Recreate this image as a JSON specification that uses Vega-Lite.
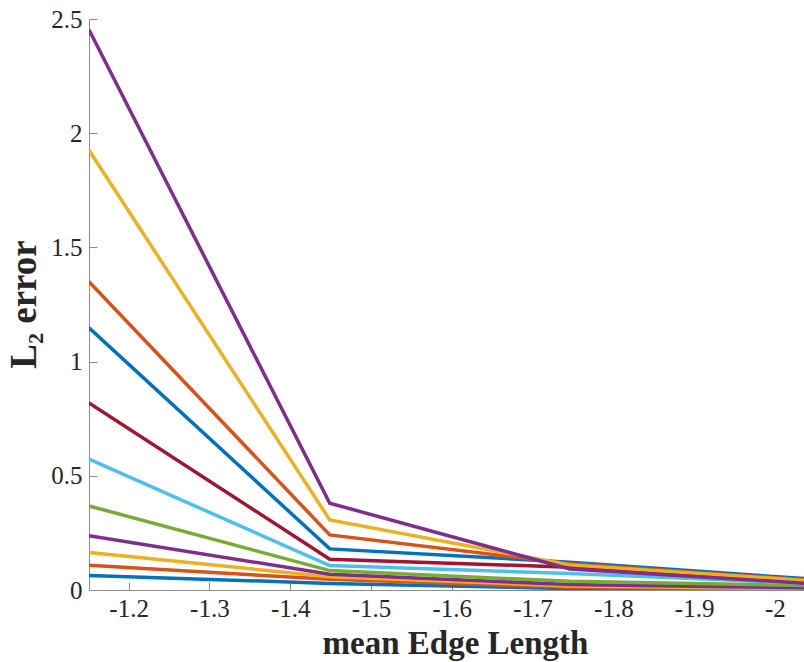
{
  "$schema": "https://vega.github.io/schema/vega-lite/v6.json",
  "width": 715,
  "height": 571,
  "autosize": {"type": "none"},
  "padding": {"left": 89, "top": 19, "right": 0, "bottom": 72},
  "background": "white",
  "config": {"view": {"stroke": null}, "font": "Liberation Serif"},
  "data": {"values": [
    {"s": "s01", "x": -1.151, "y": 0.064}, {"s": "s01", "x": -1.449, "y": 0.029}, {"s": "s01", "x": -1.746, "y": 0.006}, {"s": "s01", "x": -2.036, "y": 0.002},
    {"s": "s02", "x": -1.151, "y": 0.108}, {"s": "s02", "x": -1.449, "y": 0.047}, {"s": "s02", "x": -1.746, "y": 0.012}, {"s": "s02", "x": -2.036, "y": 0.004},
    {"s": "s03", "x": -1.151, "y": 0.164}, {"s": "s03", "x": -1.449, "y": 0.058}, {"s": "s03", "x": -1.746, "y": 0.018}, {"s": "s03", "x": -2.036, "y": 0.006},
    {"s": "s04", "x": -1.151, "y": 0.238}, {"s": "s04", "x": -1.449, "y": 0.069}, {"s": "s04", "x": -1.746, "y": 0.024}, {"s": "s04", "x": -2.036, "y": 0.010},
    {"s": "s05", "x": -1.151, "y": 0.368}, {"s": "s05", "x": -1.449, "y": 0.085}, {"s": "s05", "x": -1.746, "y": 0.038}, {"s": "s05", "x": -2.036, "y": 0.020},
    {"s": "s06", "x": -1.151, "y": 0.573}, {"s": "s06", "x": -1.449, "y": 0.107}, {"s": "s06", "x": -1.746, "y": 0.072}, {"s": "s06", "x": -2.036, "y": 0.030},
    {"s": "s07", "x": -1.151, "y": 0.819}, {"s": "s07", "x": -1.449, "y": 0.135}, {"s": "s07", "x": -1.746, "y": 0.100}, {"s": "s07", "x": -2.036, "y": 0.038},
    {"s": "s08", "x": -1.151, "y": 1.148}, {"s": "s08", "x": -1.449, "y": 0.180}, {"s": "s08", "x": -1.746, "y": 0.122}, {"s": "s08", "x": -2.036, "y": 0.050},
    {"s": "s09", "x": -1.151, "y": 1.350}, {"s": "s09", "x": -1.449, "y": 0.241}, {"s": "s09", "x": -1.746, "y": 0.115}, {"s": "s09", "x": -2.036, "y": 0.045},
    {"s": "s10", "x": -1.151, "y": 1.925}, {"s": "s10", "x": -1.449, "y": 0.307}, {"s": "s10", "x": -1.746, "y": 0.110}, {"s": "s10", "x": -2.036, "y": 0.042},
    {"s": "s11", "x": -1.151, "y": 2.453}, {"s": "s11", "x": -1.449, "y": 0.380}, {"s": "s11", "x": -1.746, "y": 0.092}, {"s": "s11", "x": -2.036, "y": 0.030}
  ]},
  "mark": {"type": "line", "strokeWidth": 3.5, "clip": true},
  "encoding": {
    "x": {
      "field": "x", "type": "quantitative",
      "scale": {"domain": [-1.151, -2.036], "nice": false, "zero": false},
      "axis": {
        "values": [-1.2, -1.3, -1.4, -1.5, -1.6, -1.7, -1.8, -1.9, -2],
        "labelExpr": "'-' + format(-datum.value, '~g')",
        "grid": false,
        "domainColor": "#8c8c8c", "tickColor": "#8c8c8c", "tickSize": -8,
        "labelFont": "Liberation Serif", "labelFontSize": 25, "labelColor": "#262626",
        "labelBaseline": "alphabetic", "labelPadding": 34, "labelDx": 4,
        "title": "mean Edge Length", "titleFont": "Liberation Serif", "titleFontSize": 33,
        "titleFontWeight": "bold", "titleColor": "#262626",
        "titleX": 366, "titleY": 63, "titleBaseline": "alphabetic", "titleAlign": "center"
      }
    },
    "y": {
      "field": "y", "type": "quantitative",
      "scale": {"domain": [0, 2.5], "nice": false},
      "axis": {
        "values": [0, 0.5, 1, 1.5, 2, 2.5],
        "format": "~g",
        "grid": false,
        "domainColor": "#8c8c8c", "tickColor": "#8c8c8c", "tickSize": -8,
        "labelFont": "Liberation Serif", "labelFontSize": 25, "labelColor": "#262626",
        "labelPadding": 15,
        "title": "L₂ error", "titleFont": "Liberation Serif", "titleFontSize": 37,
        "titleFontWeight": "bold", "titleColor": "#262626",
        "titleX": -54, "titleY": 285, "titleAngle": -90, "titleBaseline": "alphabetic", "titleAlign": "center"
      }
    },
    "color": {
      "field": "s", "type": "nominal", "legend": null,
      "scale": {
        "domain": ["s01", "s02", "s03", "s04", "s05", "s06", "s07", "s08", "s09", "s10", "s11"],
        "range": ["#0072BD", "#D95319", "#EDB120", "#7E2F8E", "#77AC30", "#4DBEEE", "#A2142F", "#0072BD", "#D95319", "#EDB120", "#7E2F8E"]
      }
    }
  }
}
